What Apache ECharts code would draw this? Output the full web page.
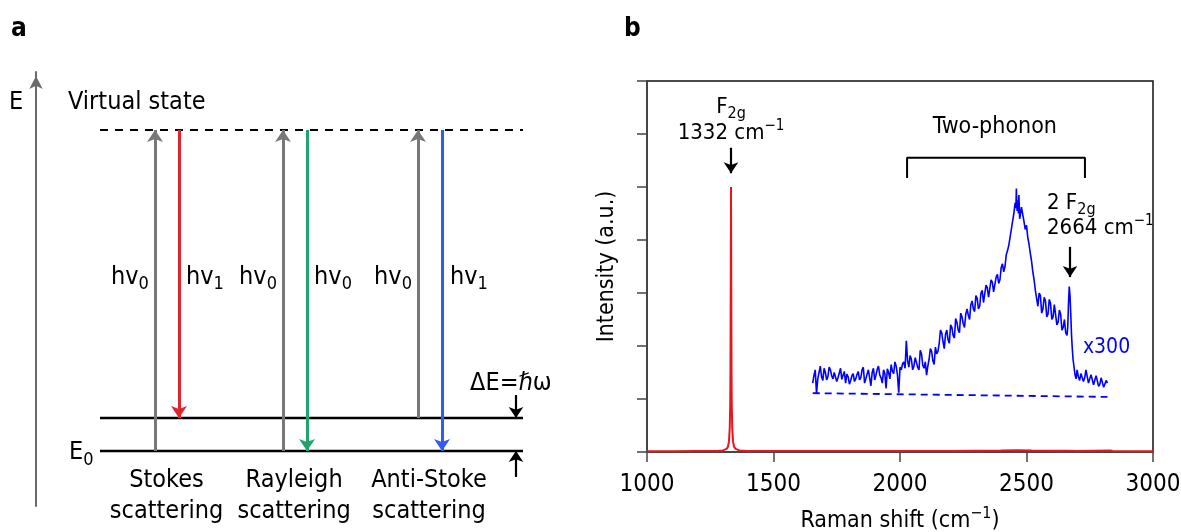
<!DOCTYPE html>
<html>
<head>
<meta charset="utf-8">
<script src="https://cdn.jsdelivr.net/npm/echarts@6/dist/echarts.min.js"></script>
<style>
html,body{margin:0;padding:0;background:#fff;}
#chart{width:1181px;height:532px;}
</style>
</head>
<body>
<div id="chart"></div>
<script>
// ---------- Panel a : energy diagram (schematic units 0..100) ----------
const levelNames = ['ground', 'vibrational'];
const levelY = [12.67, 20.28];
const levelX = [13.14, 100];
const virtualY = 86.64;
const transitionX    = [24.44, 29.36, 50.72, 55.65, 78.44, 83.37];
const transitionFrom = [12.67, 86.64, 12.67, 86.64, 20.28, 86.64];
const transitionTo   = [86.64, 20.28, 86.64, 12.67, 86.64, 12.67];
const transitionKind = ['in', 'stokes', 'in', 'rayleigh', 'in', 'anti'];
const deltaArrowX = 98.56;
const deltaDown = [25.58, 20.28];
const deltaUp = [6.68, 12.67];
const hvLabels = ['hv{s|0}', 'hv{s|1}', 'hv{s|0}', 'hv{s|0}', 'hv{s|0}', 'hv{s|1}'];
const hvX = [19.30, 34.70, 45.59, 60.99, 73.31, 88.91];
const hvY = 52.76;
const procNames = ['Stokes', 'Rayleigh', 'Anti-Stoke'];
const procX = [26.8, 53.0, 80.7];
const procY = [5.99, -1.38];

// ---------- Panel b : Raman spectrum ----------
const xTicks = [1000, 1500, 2000, 2500, 3000];
const redSpectrum = [
  [1000,0.015],[1100,0.015],[1200,0.018],[1280,0.02],[1300,0.03],[1315,0.06],[1320,0.1],[1324,0.2],
  [1327,0.45],[1329,0.9],[1330,1.6],[1331,3.2],[1332,5.0],[1333,3.2],[1334,1.6],[1335,0.9],
  [1337,0.45],[1340,0.2],[1344,0.1],[1350,0.06],[1365,0.03],[1400,0.02],[1600,0.017],[1800,0.017],
  [2000,0.017],[2200,0.02],[2400,0.028],[2460,0.035],[2520,0.028],[2660,0.025],[2700,0.02],[2830,0.03],
  [2840,0.018],[3000,0.015]
];
const blueSpectrum = [
  [1655,1.30],[1660,1.45],[1665,1.55],[1670,1.10],[1675,1.38],[1680,1.50],[1685,1.62],[1690,1.42],
  [1695,1.35],[1700,1.58],[1705,1.50],[1710,1.36],[1715,1.42],[1720,1.60],[1725,1.55],[1730,1.44],
  [1735,1.38],[1740,1.50],[1745,1.52],[1750,1.33],[1755,1.40],[1760,1.49],[1765,1.58],[1770,1.37],
  [1775,1.45],[1780,1.52],[1785,1.30],[1790,1.47],[1795,1.42],[1800,1.28],[1805,1.35],[1810,1.44],
  [1815,1.48],[1820,1.33],[1825,1.38],[1830,1.46],[1835,1.52],[1840,1.36],[1845,1.40],[1850,1.55],
  [1855,1.60],[1860,1.30],[1865,1.38],[1870,1.47],[1875,1.55],[1880,1.40],[1885,1.25],[1890,1.50],
  [1895,1.58],[1900,1.36],[1905,1.45],[1910,1.56],[1915,1.62],[1920,1.45],[1925,1.40],[1930,1.30],
  [1935,1.55],[1940,1.48],[1945,1.20],[1950,1.57],[1955,1.50],[1960,1.38],[1965,1.65],[1970,1.52],
  [1975,1.48],[1980,1.70],[1985,1.62],[1990,1.45],[1995,1.12],[2000,1.60],[2005,1.55],[2010,1.66],
  [2015,1.70],[2020,1.58],[2025,2.10],[2030,1.72],[2035,1.60],[2040,1.82],[2045,1.75],[2050,1.55],
  [2055,1.62],[2060,1.78],[2065,1.80],[2070,1.60],[2075,1.55],[2080,1.92],[2085,1.85],[2090,1.64],
  [2095,1.58],[2100,1.70],[2105,1.45],[2110,1.62],[2115,1.75],[2120,1.95],[2125,1.90],[2130,1.72],
  [2135,1.65],[2140,1.98],[2145,1.85],[2150,1.90],[2155,2.05],[2160,2.30],[2165,2.25],[2170,2.08],
  [2175,1.95],[2180,2.22],[2185,2.30],[2190,2.12],[2195,2.05],[2200,2.40],[2205,2.35],[2210,2.20],
  [2215,2.15],[2220,2.52],[2225,2.45],[2230,2.30],[2235,2.25],[2240,2.62],[2245,2.55],[2250,2.42],
  [2255,2.35],[2260,2.60],[2265,2.70],[2270,2.58],[2275,2.50],[2280,2.78],[2285,2.85],[2290,2.70],
  [2295,2.65],[2300,2.95],[2305,2.90],[2310,2.70],[2315,2.75],[2320,3.00],[2325,3.05],[2330,2.82],
  [2335,2.85],[2340,3.15],[2345,3.10],[2350,2.92],[2355,2.95],[2360,3.25],[2365,3.20],[2370,3.02],
  [2375,3.05],[2380,3.30],[2385,3.35],[2390,3.18],[2395,3.25],[2400,3.48],[2405,3.55],[2410,3.40],
  [2415,3.50],[2420,3.72],[2425,3.80],[2430,3.90],[2435,4.05],[2440,4.20],[2445,4.35],[2450,4.50],
  [2455,4.70],[2458,4.60],[2460,4.97],[2463,4.55],[2465,4.75],[2468,4.50],[2470,4.85],[2473,4.40],
  [2475,4.45],[2480,4.62],[2485,4.60],[2490,4.35],[2495,4.20],[2500,4.28],[2505,4.05],[2510,3.92],
  [2515,3.75],[2520,3.60],[2525,3.40],[2530,3.25],[2535,3.05],[2540,2.90],[2545,2.75],[2550,3.00],
  [2555,2.95],[2560,2.62],[2565,2.70],[2570,2.92],[2575,2.85],[2580,2.55],[2585,2.60],[2590,2.88],
  [2595,2.80],[2600,2.50],[2605,2.55],[2610,2.78],[2615,2.75],[2620,2.40],[2625,2.45],[2630,2.68],
  [2635,2.60],[2640,2.30],[2645,2.35],[2650,2.50],[2655,2.25],[2660,2.20],[2663,2.35],[2666,2.80],
  [2669,3.12],[2672,2.95],[2675,2.60],[2678,2.20],[2681,1.95],[2684,1.75],[2688,1.60],[2692,1.45],
  [2696,1.38],[2700,1.55],[2705,1.42],[2710,1.35],[2715,1.48],[2720,1.50],[2725,1.33],[2730,1.40],
  [2735,1.55],[2740,1.52],[2745,1.30],[2750,1.32],[2755,1.46],[2760,1.48],[2765,1.27],[2770,1.30],
  [2775,1.44],[2780,1.45],[2785,1.24],[2790,1.28],[2795,1.40],[2800,1.38],[2805,1.22],[2810,1.25],
  [2815,1.35],[2820,1.30]
];
const blueBaseline = [[1655,1.11],[2820,1.04]];
const bracket = [[2028,5.17],[2028,5.55],[2731,5.55],[2731,5.17]];
const peakArrows = [[[1332,5.74],[1332,5.26]], [[2672,3.87],[2672,3.30]]];
const rightTexts = [
  {value:[1332,6.51], text:'F{s|2g}', align:'center'},
  {value:[1332,6.02], text:'1332 cm{p|−1}', align:'center'},
  {value:[2375,6.13], text:'Two-phonon', align:'center'},
  {value:[2581,4.70], text:'2 F{s|2g}', align:'left'},
  {value:[2581,4.23], text:'2664 cm{p|−1}', align:'left'},
  {value:[2723,1.98], text:'x300', align:'left', color:'#0000ff'}
];

// ---------- font detection ----------
function hasFont(name){
  const ctx = document.createElement('canvas').getContext('2d');
  ctx.font = '40px monospace';
  const a = ctx.measureText('Virtual state 1000').width;
  ctx.font = '40px "' + name + '", monospace';
  const b = ctx.measureText('Virtual state 1000').width;
  return Math.abs(a - b) > 0.5;
}
const CONDENSED = hasFont('DejaVu Sans Condensed');
const FONT = CONDENSED ? 'DejaVu Sans Condensed' : 'DejaVu Sans';
const K = CONDENSED ? 1 : 0.9;
const SZ = {left: Math.round(25*K), tick: Math.round(24*K), ann: Math.round(22*K), name: Math.round(23*K), x300: Math.round(21*K), letter: 26};

const colors = {in:'#787878', stokes:'#e3232b', rayleigh:'#1fa56b', anti:'#2f5cf2'};

function richFor(size, color){
  const lh = Math.round(size*1.3);
  return {
    m:{fontSize:size, fontFamily:FONT, lineHeight:lh, color:color},
    s:{fontSize:Math.round(size*0.72), fontFamily:FONT, lineHeight:Math.round(size*0.72), verticalAlign:'bottom', color:color},
    p:{fontSize:Math.round(size*0.68), fontFamily:FONT, lineHeight:Math.round(size*0.6), verticalAlign:'top', color:color}
  };
}
function labelItem(value, text, align, size, color){
  const c = color || '#000';
  const pos = align === 'left' ? 'right' : (align === 'right' ? 'left' : 'inside');
  return {
    value: value,
    itemStyle:{opacity:1},
    label:{show:true, formatter:text, position:pos, distance:0, fontSize:size, fontFamily:FONT,
      color:c, opacity:1, textBorderWidth:0, lineHeight:Math.round(size*1.3), rich:richFor(size, c)}
  };
}

const leftLabels = [];
leftLabels.push(labelItem([-4.1, 92.86], 'E', 'center', SZ.left));
leftLabels.push(labelItem([6.57, 92.86], 'Virtual state', 'left', SZ.left));
leftLabels.push(labelItem([11.8, 12.3], 'E{s|0}', 'right', SZ.left));
leftLabels.push(labelItem([97.5, 28.34], 'ΔE=ℏω', 'center', SZ.left));
hvLabels.forEach((t,i)=>leftLabels.push(labelItem([hvX[i], hvY], t, 'center', SZ.left)));
procNames.forEach((t,i)=>{
  leftLabels.push(labelItem([procX[i], procY[0]], t, 'center', SZ.left));
  leftLabels.push(labelItem([procX[i], procY[1]], 'scattering', 'center', SZ.left));
});

const transitions = transitionX.map((x,i)=>({
  coords:[[x, transitionFrom[i]], [x, transitionTo[i]]],
  lineStyle:{color:colors[transitionKind[i]]}
}));
const levelLines = levelY.map(y=>({coords:[[levelX[0], y],[levelX[1], y]]}));
const deltaArrows = [
  {coords:[[deltaArrowX, deltaDown[0]],[deltaArrowX, deltaDown[1]]]},
  {coords:[[deltaArrowX, deltaUp[0]],[deltaArrowX, deltaUp[1]]]}
];

const chart = echarts.init(document.getElementById('chart'), null, {renderer:'canvas'});
chart.setOption({
  animation:false,
  backgroundColor:'#fff',
  textStyle:{fontFamily:FONT, color:'#000'},
  graphic:[
    {type:'text', left:11, top:16, style:{text:'a', font:'bold ' + SZ.letter + 'px "' + FONT + '"', fill:'#000'}},
    {type:'text', left:624, top:16, style:{text:'b', font:'bold ' + SZ.letter + 'px "' + FONT + '"', fill:'#000'}}
  ],
  grid:[
    {left:36, top:72, width:487, height:434, show:false, containLabel:false, outerBoundsMode:'none'},
    {left:647, top:81, width:506, height:371, show:true, borderColor:'#111', borderWidth:1.5,
      containLabel:false, outerBoundsMode:'none'}
  ],
  xAxis:[
    {gridIndex:0, type:'value', min:0, max:100, show:false},
    {gridIndex:1, type:'value', min:1000, max:3000, interval:500,
      name:'Raman shift (cm{p|−1})', nameLocation:'middle', nameGap:54,
      nameTextStyle:{fontSize:SZ.name, fontFamily:FONT, color:'#000', lineHeight:Math.round(SZ.name*1.3), rich:richFor(SZ.name, '#000')},
      axisLine:{lineStyle:{color:'#444', width:1.5}},
      axisTick:{inside:false, length:10, lineStyle:{color:'#444', width:1.5}},
      axisLabel:{fontSize:SZ.tick, fontFamily:FONT, color:'#000', margin:21, formatter:v=>String(v)},
      splitLine:{show:false}}
  ],
  yAxis:[
    {gridIndex:0, type:'value', min:0, max:100,
      axisLine:{show:true, symbol:['none','arrow'], symbolSize:[10,13], symbolOffset:[0,-4], lineStyle:{color:'#6b6b6b', width:2}},
      axisTick:{show:false}, axisLabel:{show:false}, splitLine:{show:false}},
    {gridIndex:1, type:'value', min:0, max:7, interval:1,
      name:'Intensity (a.u.)', nameLocation:'middle', nameGap:28, nameRotate:90,
      nameTextStyle:{fontSize:SZ.name, fontFamily:FONT, color:'#000'},
      axisLine:{lineStyle:{color:'#444', width:1.5}},
      axisTick:{inside:false, length:10, lineStyle:{color:'#444', width:1.5}},
      axisLabel:{show:false}, splitLine:{show:false}}
  ],
  series:[
    // panel a
    {type:'lines', coordinateSystem:'cartesian2d', xAxisIndex:0, yAxisIndex:0,
      data:levelLines, lineStyle:{color:'#000', width:2.4, opacity:1}, symbol:'none'},
    {type:'lines', coordinateSystem:'cartesian2d', xAxisIndex:0, yAxisIndex:0,
      data:[{coords:[[levelX[0], virtualY],[levelX[1], virtualY]]}],
      lineStyle:{color:'#000', width:2, type:[8,7], opacity:1}, symbol:'none'},
    {type:'lines', coordinateSystem:'cartesian2d', xAxisIndex:0, yAxisIndex:0,
      data:transitions, lineStyle:{width:3, opacity:1}, symbol:['none','arrow'], symbolSize:12, z:3},
    {type:'lines', coordinateSystem:'cartesian2d', xAxisIndex:0, yAxisIndex:0,
      data:deltaArrows, lineStyle:{color:'#000', width:2.2, opacity:1}, symbol:['none','arrow'], symbolSize:11},
    {type:'scatter', xAxisIndex:0, yAxisIndex:0, symbolSize:0, clip:false, data:leftLabels, silent:true,
      itemStyle:{opacity:1}},
    // panel b
    {type:'line', xAxisIndex:1, yAxisIndex:1, data:redSpectrum, showSymbol:false, symbol:'none',
      lineStyle:{color:'#e8151c', width:2}, z:2},
    {type:'line', xAxisIndex:1, yAxisIndex:1, data:blueSpectrum, showSymbol:false, symbol:'none',
      lineStyle:{color:'#0000ff', width:1.6}, z:3},
    {type:'line', xAxisIndex:1, yAxisIndex:1, data:blueBaseline, showSymbol:false, symbol:'none',
      lineStyle:{color:'#0000ff', width:1.8, type:[7,5]}, z:3},
    {type:'line', xAxisIndex:1, yAxisIndex:1, data:bracket, showSymbol:false, symbol:'none',
      lineStyle:{color:'#000', width:2}, z:3},
    {type:'lines', coordinateSystem:'cartesian2d', xAxisIndex:1, yAxisIndex:1,
      data:peakArrows.map(c=>({coords:c})), lineStyle:{color:'#000', width:2.2, opacity:1},
      symbol:['none','arrow'], symbolSize:11},
    {type:'scatter', xAxisIndex:1, yAxisIndex:1, symbolSize:0, clip:false, silent:true, itemStyle:{opacity:1},
      data:rightTexts.map(t=>labelItem(t.value, t.text, t.align, t.color ? SZ.x300 : (t.text === 'Two-phonon' ? SZ.name : SZ.ann), t.color))}
  ]
});
</script>
</body>
</html>
